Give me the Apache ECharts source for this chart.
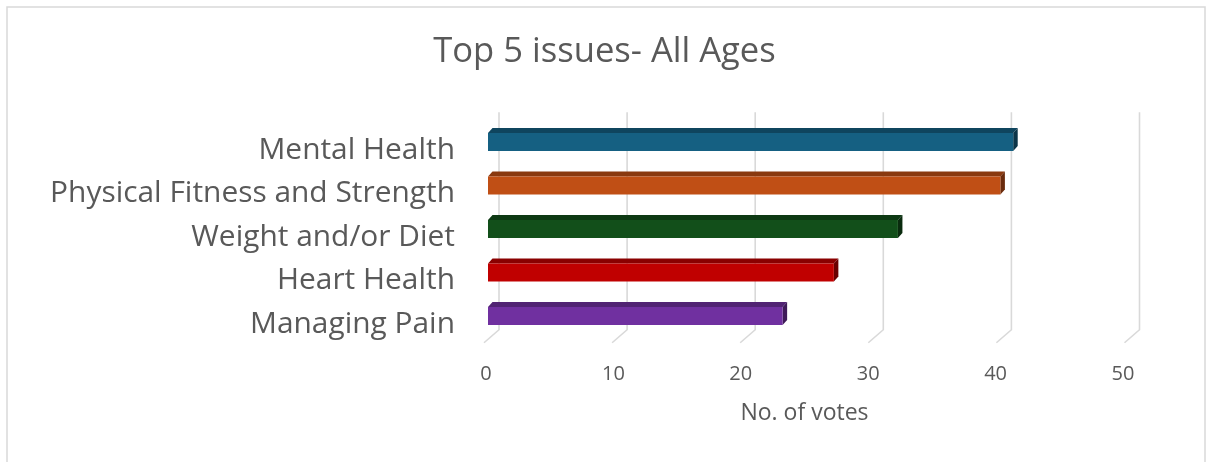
<!DOCTYPE html>
<html>
<head>
<meta charset="utf-8">
<script src="https://cdn.jsdelivr.net/npm/echarts@6/dist/echarts.min.js"></script>
<style>
html,body{margin:0;padding:0;background:#fff;}
#chart{width:1209px;height:462px;}
</style>
</head>
<body>
<div id="chart"></div>
<script>
const categories = ["Mental Health", "Physical Fitness and Strength", "Weight and/or Diet", "Heart Health", "Managing Pain"];
const votes = [41, 40, 32, 27, 23];
const tickValues = [0, 10, 20, 30, 40, 50];
const barColors = ["#156082", "#C04F15", "#124F1A", "#C00000", "#7030A0"];

function shade(hex, f) {
  const n = parseInt(hex.slice(1), 16);
  const r = Math.round(((n >> 16) & 255) * f), g = Math.round(((n >> 8) & 255) * f), b = Math.round((n & 255) * f);
  return "rgb(" + r + "," + g + "," + b + ")";
}

const chart = echarts.init(document.getElementById("chart"), null, {renderer: "canvas"});
const DX = 4.5, DY = -5, FACE = 18;
const BACK_X = 11, BACK_Y = -8;

const option = {
  animation: false,
  backgroundColor: "#ffffff",
  title: {
    text: "Top 5 issues- All Ages",
    left: "center",
    top: 30,
    textStyle: {fontFamily: "Open Sans", fontSize: 34.6, fontWeight: "normal", color: "#595959"}
  },
  graphic: [{
    type: "rect", shape: {x: 7, y: 7, width: 1198, height: 470},
    style: {fill: "none", stroke: "#d9d9d9", lineWidth: 1.5}, silent: true, z: -1
  }],
  grid: [
    {left: 488, right: 80.5, top: 120.25, bottom: 124.25},
    {left: 486, right: 86, top: 120.25, bottom: 124.25}
  ],
  xAxis: [
    {
      type: "value", gridIndex: 0, min: 0, max: 50, interval: 10,
      axisLine: {show: false}, axisTick: {show: false}, splitLine: {show: false},
      axisLabel: {show: false}
    },
    {
      type: "value", gridIndex: 1, min: 0, max: 50, interval: 10,
      axisLine: {show: false}, axisTick: {show: false}, splitLine: {show: false},
      axisLabel: {fontFamily: "Open Sans", fontSize: 20, color: "#595959", margin: 27},
      name: "No. of votes", nameLocation: "middle", nameGap: 64,
      nameTextStyle: {fontFamily: "Open Sans", fontSize: 23, color: "#595959"}
    }
  ],
  yAxis: [
    {
      type: "category", gridIndex: 0, data: categories, inverse: true,
      axisLine: {show: false}, axisTick: {show: false}, splitLine: {show: false},
      axisLabel: {fontFamily: "Open Sans", fontSize: 29.9, color: "#595959", margin: 33,
                  verticalAlign: "top", lineHeight: 16}
    },
    {
      type: "category", gridIndex: 1, data: categories, inverse: true, show: false
    }
  ],
  series: [
    {
      type: "custom", z: 1, silent: true,
      xAxisIndex: 0, yAxisIndex: 0,
      data: tickValues.map(v => [v, 0]),
      encode: {x: 0, y: 1},
      renderItem: function (params, api) {
        const cs = params.coordSys;
        const p = api.coord([api.value(0), 0]);
        const x = p[0] + BACK_X;
        const top = cs.y + BACK_Y;
        const bot = cs.y + cs.height + BACK_Y;
        return {
          type: "polyline",
          shape: {points: [[x, top], [x, bot], [x - 15, bot + 13]]},
          style: {stroke: "#d9d9d9", lineWidth: 1.6, fill: null}
        };
      }
    },
    {
      type: "custom", z: 3,
      xAxisIndex: 0, yAxisIndex: 0,
      data: votes.map((v, i) => [v, i]),
      encode: {x: 0, y: 1},
      renderItem: function (params, api) {
        const v = api.value(0), c = api.value(1);
        const s = api.coord([0, c]);
        const e = api.coord([v, c]);
        const y0 = s[1] - FACE / 2, y1 = s[1] + FACE / 2;
        const col = barColors[c];
        return {
          type: "group",
          children: [
            {type: "polygon", shape: {points: [[s[0], y0], [s[0] + DX, y0 + DY], [e[0] + DX, y0 + DY], [e[0], y0]]},
             style: {fill: shade(col, 0.72)}},
            {type: "polygon", shape: {points: [[e[0], y0], [e[0] + DX, y0 + DY], [e[0] + DX, y1 + DY], [e[0], y1]]},
             style: {fill: shade(col, 0.55)}},
            {type: "rect", shape: {x: s[0], y: y0, width: e[0] - s[0], height: FACE},
             style: {fill: col}}
          ]
        };
      }
    }
  ]
};
chart.setOption(option);
</script>
</body>
</html>
